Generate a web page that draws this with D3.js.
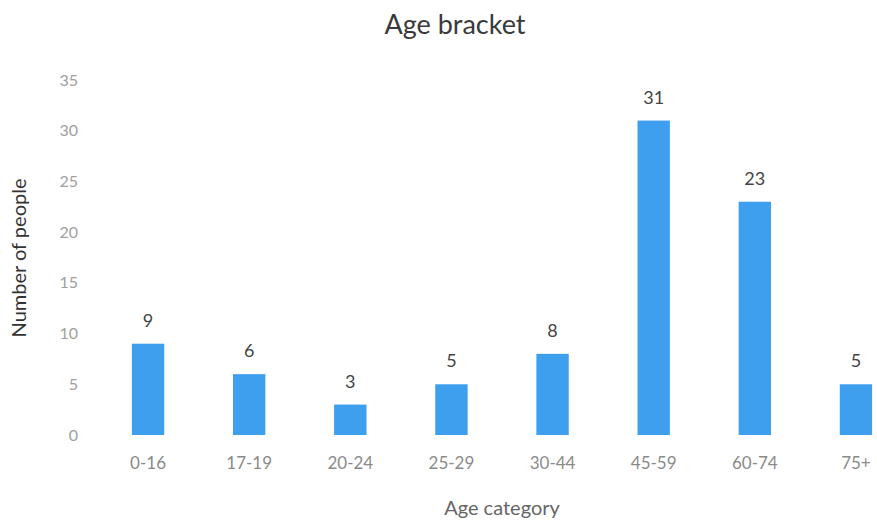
<!DOCTYPE html>
<html>
<head>
<meta charset="utf-8">
<script src="https://cdnjs.cloudflare.com/ajax/libs/d3/7.8.5/d3.min.js"></script>
<style>
  body { margin: 0; background: #fff; }
  svg { font-family: Lato, "Open Sans", sans-serif; }
</style>
</head>
<body>
<div id="chart"></div>
<script>
var categories = ["0-16", "17-19", "20-24", "25-29", "30-44", "45-59", "60-74", "75+"];
var counts = [9, 6, 3, 5, 8, 31, 23, 5];
var yTicks = [0, 5, 10, 15, 20, 25, 30, 35];

var width = 877, height = 522;

var svg = d3.select("#chart").append("svg")
  .attr("width", width)
  .attr("height", height);

// scales
var x = d3.scaleBand().domain(categories).range([97.5, 906.5]).paddingInner(0.68).paddingOuter(0.34);
var y = d3.scaleLinear().domain([0, 35]).range([435, 80]);

// title
svg.append("text")
  .attr("x", 455).attr("y", 34)
  .attr("text-anchor", "middle")
  .style("font-size", "27px")
  .style("fill", "#3a3a3a")
  .text("Age bracket");

// y axis (labels only)
var yAxis = d3.axisLeft(y).tickValues(yTicks).tickSize(0).tickPadding(0);
var gy = svg.append("g").attr("transform", "translate(78,0)").call(yAxis);
gy.select(".domain").remove();
gy.selectAll("text").style("font-size", "16px").style("fill", "#a0a0a0").style("font-family", "Lato, sans-serif");

// x axis (labels only)
var xAxis = d3.axisBottom(x).tickSize(0).tickPadding(0);
var gx = svg.append("g").attr("transform", "translate(0,457)").call(xAxis);
gx.select(".domain").remove();
gx.selectAll("text").style("font-size", "17px").style("fill", "#8a8a8a").style("font-family", "Lato, sans-serif");

// axis titles
svg.append("text")
  .attr("transform", "translate(26,258) rotate(-90)")
  .attr("text-anchor", "middle")
  .style("font-size", "20px")
  .style("fill", "#333")
  .text("Number of people");

svg.append("text")
  .attr("x", 502).attr("y", 515)
  .attr("text-anchor", "middle")
  .style("font-size", "20px")
  .style("fill", "#666")
  .text("Age category");

// bars
svg.selectAll("rect.bar")
  .data(counts)
  .enter().append("rect")
  .attr("class", "bar")
  .attr("x", function(d, i) { return x(categories[i]); })
  .attr("y", function(d) { return y(d); })
  .attr("width", x.bandwidth())
  .attr("height", function(d) { return y(0) - y(d); })
  .attr("fill", "#3d9fee");

// value labels
svg.selectAll("text.val")
  .data(counts)
  .enter().append("text")
  .attr("class", "val")
  .attr("x", function(d, i) { return x(categories[i]) + x.bandwidth() / 2; })
  .attr("y", function(d) { return y(d) - 17; })
  .attr("text-anchor", "middle")
  .style("font-size", "18px")
  .style("fill", "#444")
  .text(function(d) { return d; });
</script>
</body>
</html>
